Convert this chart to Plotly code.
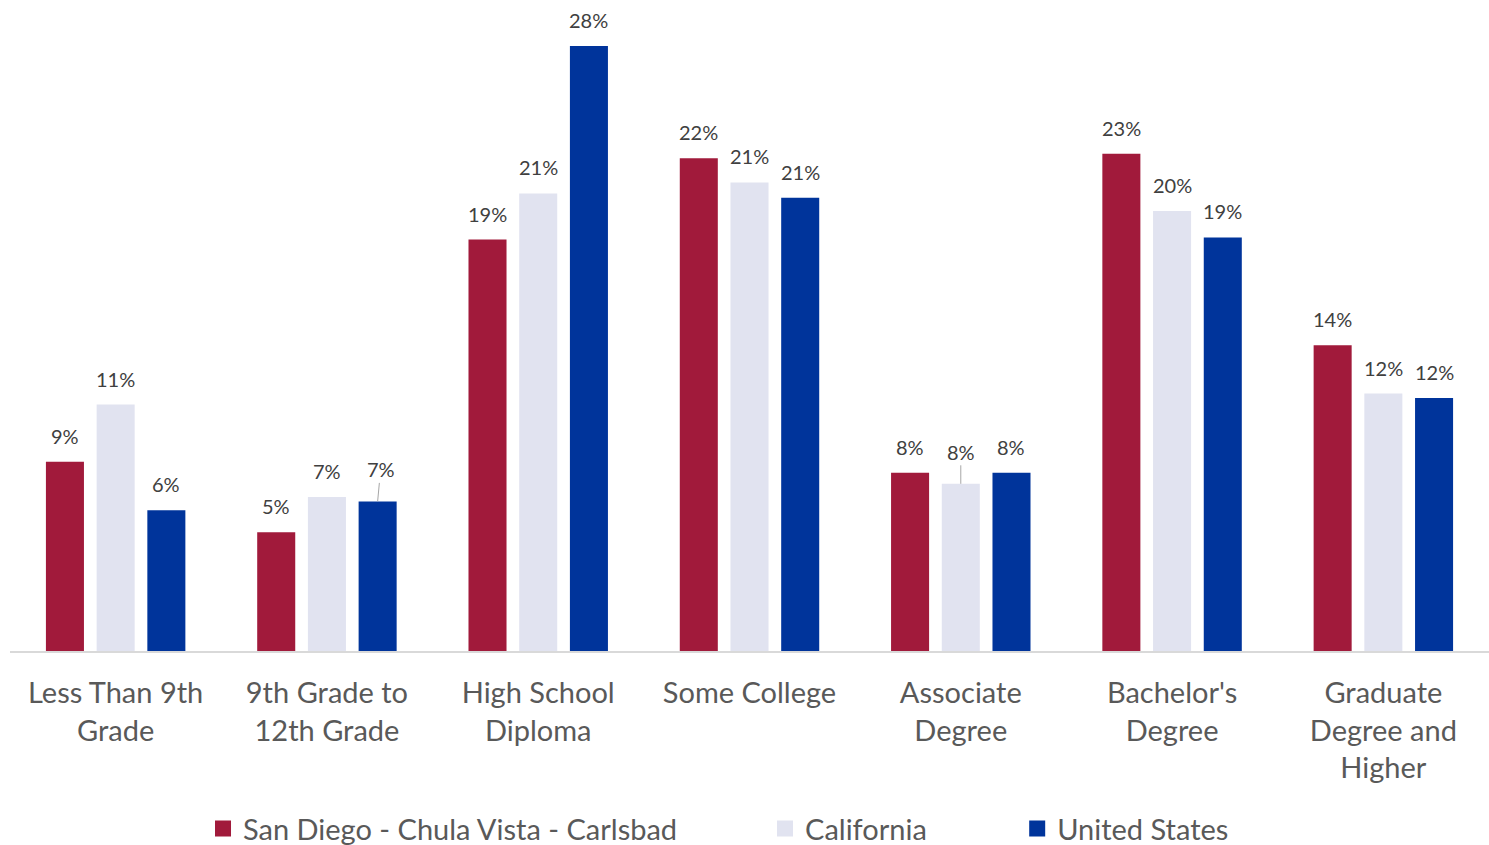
import plotly.graph_objects as go

# Educational attainment shares (fraction of population 25+)
categories = [
    "Less Than 9th<br>Grade",
    "9th Grade to<br>12th Grade",
    "High School<br>Diploma",
    "Some College",
    "Associate<br>Degree",
    "Bachelor's<br>Degree",
    "Graduate<br>Degree and<br>Higher",
]
san_diego = [0.086, 0.054, 0.187, 0.224, 0.081, 0.226, 0.139]
california = [0.112, 0.070, 0.208, 0.213, 0.076, 0.200, 0.117]
united_states = [0.064, 0.068, 0.275, 0.206, 0.081, 0.188, 0.115]

series_names = ["San Diego - Chula Vista - Carlsbad", "California", "United States"]
series_values = [san_diego, california, united_states]
series_colors = ["#A11A3B", "#E1E3F0", "#00349B"]
legend_ids = ["legend", "legend2", "legend3"]
legend_x = [0.1305, 0.5105, 0.681]
group_shift = [-50.7, 0, 50.7]

# labels pulled up with a leader line: (series index, category index)
leader_labels = {(2, 1): 3, (1, 4): 0}

FONT = "Lato, 'Open Sans', sans-serif"
LABEL_COLOR = "#404040"
AXIS_COLOR = "#595959"

fig = go.Figure()
for name, vals, color, lg in zip(series_names, series_values, series_colors, legend_ids):
    fig.add_trace(go.Bar(
        name=name,
        x=categories,
        y=vals,
        marker=dict(color=color, line=dict(width=0)),
        showlegend=False,
    ))
    # legend swatch
    fig.add_trace(go.Scatter(
        name=name,
        x=[None], y=[None],
        mode="markers",
        marker=dict(symbol="square", size=18, color=color),
        legend=lg,
        showlegend=True,
    ))

annotations = []
for si, vals in enumerate(series_values):
    for ci, (cat, v) in enumerate(zip(categories, vals)):
        txt = f"{v:.0%}"
        if (si, ci) in leader_labels:
            annotations.append(dict(
                x=cat, y=v, xref="x", yref="y", xshift=group_shift[si],
                text=txt, showarrow=True, arrowhead=0, arrowwidth=1,
                arrowcolor="#A6A6A6", ax=leader_labels[(si, ci)], ay=-32,
                font=dict(family=FONT, size=20, color=LABEL_COLOR),
            ))
        else:
            annotations.append(dict(
                x=cat, y=v, xref="x", yref="y", xshift=group_shift[si],
                yshift=26, yanchor="middle",
                text=txt, showarrow=False,
                font=dict(family=FONT, size=20, color=LABEL_COLOR),
            ))

layout_legends = {}
for lg, lx in zip(legend_ids, legend_x):
    layout_legends[lg] = dict(
        x=lx, y=-0.247, xanchor="left", yanchor="top",
        orientation="h",
        font=dict(family=FONT, size=29, color=AXIS_COLOR),
        bgcolor="rgba(0,0,0,0)",
        itemwidth=30,
    )

fig.update_layout(
    width=1489, height=845,
    margin=dict(l=10, r=0, t=35, b=194, autoexpand=False),
    paper_bgcolor="white", plot_bgcolor="white",
    barmode="group", bargap=0.28, bargroupgap=0.25,
    showlegend=True,
    annotations=annotations,
    **layout_legends,
    xaxis=dict(
        showline=True, linecolor="#D9D9D9", linewidth=2,
        ticks="", showgrid=False, automargin=False,
        tickfont=dict(family=FONT, size=29, color=AXIS_COLOR),
        tickangle=0, ticklabelstandoff=15,
    ),
    yaxis=dict(
        range=[0, 0.28], visible=False, showgrid=False, zeroline=False,
    ),
)

fig.write_html("out.html")
